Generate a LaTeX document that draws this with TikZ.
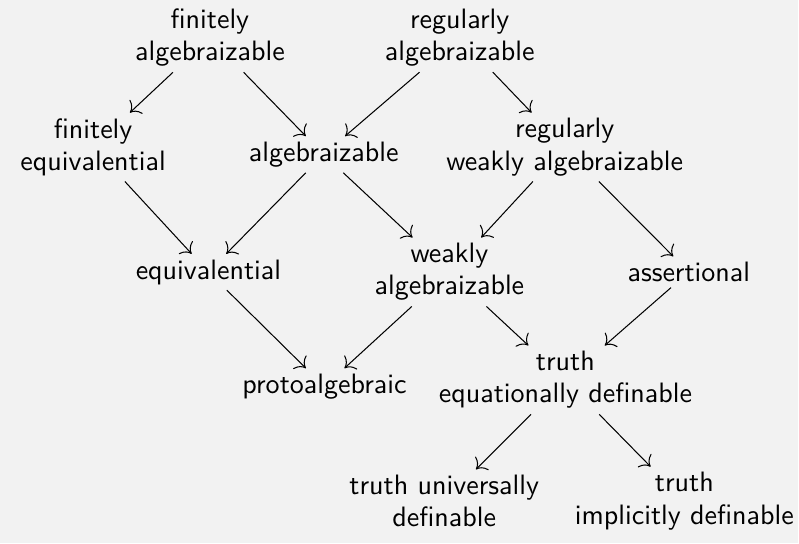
\documentclass[tikz,border=0pt]{standalone}
\usetikzlibrary{arrows.meta}
\begin{document}
\begin{tikzpicture}[>={To[scale=1.4]},
    every node/.style={font=\sffamily\fontsize{10.8}{12.4}\selectfont, align=center, inner sep=2pt}]
            \fill[black!5] (0,0) rectangle (10.8,-7.35);
            \node (fa) at (2.84,-0.51) {finitely\\algebraizable};
            \node (ra) at (6.22,-0.51) {regularly\\algebraizable};
            \node (fe) at (1.26,-1.99) {finitely\\equivalential};
            \node (al) at (4.38,-2.09) {algebraizable};
            \node (rwa) at (7.64,-1.99) {regularly\\weakly algebraizable};
            \node (eq) at (2.82,-3.68) {equivalential};
            \node (wa) at (6.08,-3.68) {weakly\\algebraizable};
            \node (as) at (9.32,-3.68) {assertional};
            \node (pa) at (4.39,-5.23) {protoalgebraic};
            \node (ted) at (7.65,-5.14) {truth\\equationally definable};
            \node (tud) at (6.01,-6.78) {truth universally\\definable};
            \node (tid) at (9.26,-6.78) {truth\\implicitly definable};
            \draw[->] (fa) -- (fe);
            \draw[->] (fa) -- (al);
            \draw[->] (ra) -- (al);
            \draw[->] (ra) -- (rwa);
            \draw[->] (fe) -- (eq);
            \draw[->] (al) -- (eq);
            \draw[->] (al) -- (wa);
            \draw[->] (rwa) -- (wa);
            \draw[->] (rwa) -- (as);
            \draw[->] (eq) -- (pa);
            \draw[->] (wa) -- (pa);
            \draw[->] (wa) -- (ted);
            \draw[->] (as) -- (ted);
            \draw[->] (ted) -- (tud);
            \draw[->] (ted) -- (tid);
        \end{tikzpicture}
\end{document}
